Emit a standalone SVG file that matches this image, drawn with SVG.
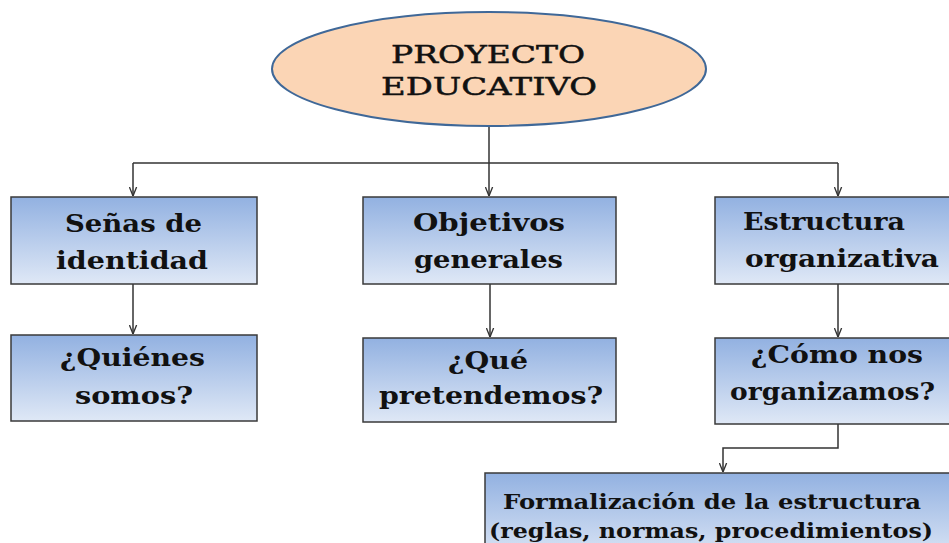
<svg xmlns="http://www.w3.org/2000/svg" width="949" height="543" viewBox="0 0 949 543">
<style>
.box{fill:url(#g);stroke:#3a3a3a;stroke-width:1.5}
.t{font-family:"DejaVu Serif","Liberation Serif",serif;font-weight:bold;font-size:24px;fill:#111;text-anchor:middle}
.ts{font-family:"DejaVu Serif","Liberation Serif",serif;font-weight:bold;font-size:20px;fill:#111;text-anchor:middle}
.te{font-family:"DejaVu Serif","Liberation Serif",serif;font-size:25px;fill:#111;stroke:#111;stroke-width:0.5;text-anchor:middle}
.c{fill:none;stroke:#333;stroke-width:1.5}
</style>
<defs>
<linearGradient id="g" x1="0" y1="0" x2="0" y2="1">
<stop offset="0" stop-color="#92b1e1"/>
<stop offset="1" stop-color="#dfe8f6"/>
</linearGradient>
<marker id="arr" viewBox="0 0 10 10" refX="10" refY="5" markerWidth="9" markerHeight="9" markerUnits="userSpaceOnUse" orient="auto">
<path d="M0,1 L10,5 L0,9" fill="none" stroke="#333" stroke-width="1.5"/>
</marker>
</defs>
<rect width="949" height="543" fill="#fff"/>
<g id="connectors">
<path class="c" d="M489,126 V196" marker-end="url(#arr)"/>
<path class="c" d="M133,163 H838"/>
<path class="c" d="M133,163 V196" marker-end="url(#arr)"/>
<path class="c" d="M838,163 V196" marker-end="url(#arr)"/>
<path class="c" d="M133,284 V334" marker-end="url(#arr)"/>
<path class="c" d="M490,284 V337" marker-end="url(#arr)"/>
<path class="c" d="M838,284 V337" marker-end="url(#arr)"/>
<path class="c" d="M838,424 V448 H723 V472" marker-end="url(#arr)"/>
</g>
<g id="proyecto">
<ellipse cx="489" cy="69" rx="217" ry="57" fill="#fbd5b5" stroke="#3f6898" stroke-width="2"/>
<text class="te" x="488" y="63" textLength="194" lengthAdjust="spacingAndGlyphs">PROYECTO</text>
<text class="te" x="489" y="95" textLength="216" lengthAdjust="spacingAndGlyphs">EDUCATIVO</text>
</g>
<g id="senas">
<rect class="box" x="11" y="197" width="246" height="87"/>
<text class="t" x="133.5" y="232" textLength="137" lengthAdjust="spacingAndGlyphs">Señas de</text>
<text class="t" x="132" y="269" textLength="152" lengthAdjust="spacingAndGlyphs">identidad</text>
</g>
<g id="quienes">
<rect class="box" x="11" y="335" width="246" height="86"/>
<text class="t" x="132.5" y="366" textLength="145" lengthAdjust="spacingAndGlyphs">¿Quiénes</text>
<text class="t" x="134" y="404" textLength="118" lengthAdjust="spacingAndGlyphs">somos?</text>
</g>
<g id="objetivos">
<rect class="box" x="363" y="197" width="253" height="87"/>
<text class="t" x="489" y="231" textLength="152" lengthAdjust="spacingAndGlyphs">Objetivos</text>
<text class="t" x="488.5" y="268" textLength="149" lengthAdjust="spacingAndGlyphs">generales</text>
</g>
<g id="que">
<rect class="box" x="363" y="338" width="253" height="84"/>
<text class="t" x="488" y="369" textLength="80" lengthAdjust="spacingAndGlyphs">¿Qué</text>
<text class="t" x="491" y="404" textLength="224" lengthAdjust="spacingAndGlyphs">pretendemos?</text>
</g>
<g id="estructura">
<rect class="box" x="715" y="197" width="250" height="87"/>
<text class="t" x="824" y="230" textLength="162" lengthAdjust="spacingAndGlyphs">Estructura</text>
<text class="t" x="842" y="267" textLength="194" lengthAdjust="spacingAndGlyphs">organizativa</text>
</g>
<g id="como">
<rect class="box" x="715" y="338" width="250" height="86"/>
<text class="t" x="837" y="363" textLength="172" lengthAdjust="spacingAndGlyphs">¿Cómo nos</text>
<text class="t" x="832.5" y="400" textLength="205" lengthAdjust="spacingAndGlyphs">organizamos?</text>
</g>
<g id="formalizacion">
<rect class="box" x="485" y="473" width="480" height="90"/>
<text class="ts" x="712" y="509" textLength="418" lengthAdjust="spacingAndGlyphs">Formalización de la estructura</text>
<text class="ts" x="711" y="538" textLength="444" lengthAdjust="spacingAndGlyphs">(reglas, normas, procedimientos)</text>
</g>
</svg>
